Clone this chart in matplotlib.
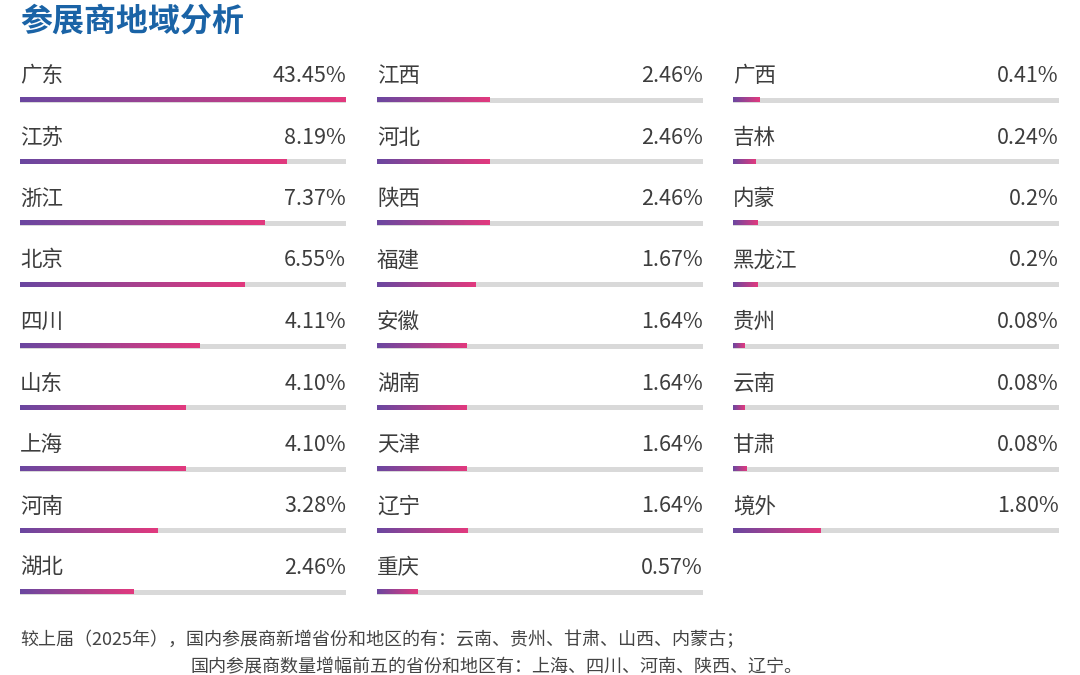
import numpy as np
import matplotlib
matplotlib.use("Agg")
import matplotlib.pyplot as plt
from matplotlib.colors import LinearSegmentedColormap
from matplotlib.patches import Rectangle

plt.rcParams['font.family'] = ['Noto Sans CJK SC', 'DejaVu Sans']

# data: three columns of regions
col1_names = ["广东", "江苏", "浙江", "北京", "四川", "山东", "上海", "河南", "湖北"]
col1_labels = ["43.45%", "8.19%", "7.37%", "6.55%", "4.11%", "4.10%", "4.10%", "3.28%", "2.46%"]
col1_fill = [1.0, 0.818, 0.75, 0.69, 0.552, 0.509, 0.509, 0.422, 0.348]

col2_names = ["江西", "河北", "陕西", "福建", "安徽", "湖南", "天津", "辽宁", "重庆"]
col2_labels = ["2.46%", "2.46%", "2.46%", "1.67%", "1.64%", "1.64%", "1.64%", "1.64%", "0.57%"]
col2_fill = [0.344, 0.344, 0.344, 0.302, 0.276, 0.276, 0.276, 0.279, 0.123]

col3_names = ["广西", "吉林", "内蒙", "黑龙江", "贵州", "云南", "甘肃", "境外"]
col3_labels = ["0.41%", "0.24%", "0.2%", "0.2%", "0.08%", "0.08%", "0.08%", "1.80%"]
col3_fill = [0.082, 0.068, 0.075, 0.075, 0.036, 0.036, 0.04, 0.267]

title = "参展商地域分析"
note1 = "较上届（2025年），国内参展商新增省份和地区的有：云南、贵州、甘肃、山西、内蒙古；"
note2 = "国内参展商数量增幅前五的省份和地区有：上海、四川、河南、陕西、辽宁。"

W, H = 1080, 675
fig = plt.figure(figsize=(W / 100, H / 100), dpi=100)
ax = fig.add_axes([0, 0, 1, 1])

cmap = LinearSegmentedColormap.from_list("bar", ["#6a47a0", "#a6418f", "#e2397e"])
grad = np.linspace(0, 1, 256).reshape(1, -1)

col_x = [20, 377, 733]
col_w = 326
row0 = 100
row_step = 61.5
bar_h = 5
text_c = "#3d3d3d"

columns = [(col1_names, col1_labels, col1_fill),
           (col2_names, col2_labels, col2_fill),
           (col3_names, col3_labels, col3_fill)]

for cx, (names, labels, fills) in zip(col_x, columns):
    for i, (name, lab, f) in enumerate(zip(names, labels, fills)):
        y = row0 + i * row_step
        ax.add_patch(Rectangle((cx, y - bar_h / 2), col_w, bar_h,
                               facecolor="#d9d9d9", edgecolor="none", zorder=1))
        ax.imshow(grad, extent=(cx, cx + col_w * f, y + bar_h / 2, y - bar_h / 2),
                  aspect="auto", cmap=cmap, zorder=2, interpolation="bilinear")
        ax.text(cx, y - 24, name, fontsize=15.5, color=text_c, ha="left", va="center")
        ax.text(cx + col_w, y - 24, lab, fontsize=15.5, color=text_c, ha="right", va="center")

ax.text(20, 22, title, fontsize=23, fontweight="bold", color="#1a63a6", ha="left", va="center")
ax.text(20, 640, note1, fontsize=13, color="#444444", ha="left", va="center")
ax.text(190, 667, note2, fontsize=13, color="#444444", ha="left", va="center")

ax.set_xlim(0, W)
ax.set_ylim(H, 0)
ax.axis("off")

fig.savefig("out.png", dpi=100)
